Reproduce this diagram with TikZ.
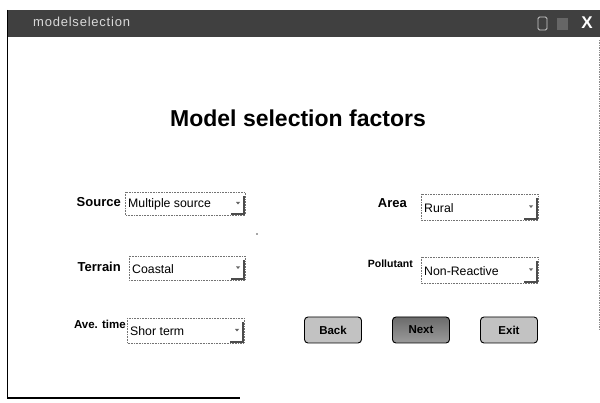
\documentclass[tikz,border=0pt]{standalone}
\usepackage{fontspec}
\setmainfont{Liberation Sans}
\usetikzlibrary{calc}
\definecolor{barbg}{gray}{0.25}
\definecolor{btnfill}{gray}{0.76}
\definecolor{btndark}{gray}{0.42}
\tikzset{
  x=1pt, y=-1pt,
  lbl/.style={font=\bfseries\fontsize{13}{15}\selectfont, inner sep=0pt},
  combo/.style={draw=black!55, densely dotted, line width=0.6pt, fill=white},
  ctext/.style={font=\fontsize{12.3}{14}\selectfont, inner sep=0pt, anchor=west},
  btn/.style={draw=black, line width=0.9pt, rounded corners=3.5pt, fill=btnfill,
    minimum width=57pt, minimum height=26pt, font=\bfseries\fontsize{11.5}{13}\selectfont, inner sep=0pt},
}
% drop-down list: name, left, top, right, bottom, text
\newcommand{\combobox}[6]{%
  \draw[combo] (#2,#3) rectangle (#4,#5);
  \node[ctext] (#1) at ({#2+3},{(#3+#5)/2+1}) {#6};
  \draw[black!70, line width=1.6pt] ({#4-1},{#3+4}) -- ({#4-1},{#5-1}) -- ({#4-14},{#5-1});
  \fill[black!60] ({#4-9},{(#3+#5)/2-1.5}) -- ({#4-5},{(#3+#5)/2-1.5}) -- ({#4-7},{(#3+#5)/2+1}) -- cycle;
}
\begin{document}
\begin{tikzpicture}
\useasboundingbox (0,0) rectangle (600,403);
\fill[white] (0,0) rectangle (600,403);

% window frame
\fill[barbg] (7,10) rectangle (600,37);
\draw[black, line width=1.6pt] (7.5,10) -- (7.5,398) -- (240,398);
\draw[black!45, densely dotted, line width=0.7pt] (599,40) -- (599,330);
\node[font=\fontsize{13}{15}\selectfont, text=white!85!black, anchor=west, inner sep=0pt] (wtitle) at (33,22) {\addfontfeature{LetterSpace=6}modelselection};

% title bar buttons
\draw[white!80!black, line width=0.8pt, rounded corners=1.5pt] (538,17) rectangle (547,30);
\fill[black!60] (557,18) rectangle (568,30);
\node[font=\bfseries\fontsize{17}{17}\selectfont, text=white, inner sep=0pt] (wclose) at (587,23) {X};

% heading
\node[font=\bfseries\fontsize{23}{26}\selectfont, inner sep=0pt] (heading) at (298,118) {Model selection factors};

% left column
\node[lbl, anchor=east] (lsource) at (121,202) {Source};
\combobox{source}{125}{192}{245}{215}{Multiple source}
\node[lbl, anchor=east] (lterrain) at (121,267) {Terrain};
\combobox{terrain}{129}{256}{245}{280}{Coastal}
\node[lbl, anchor=east, font=\bfseries\fontsize{11.5}{13}\selectfont] (lavetime) at (126,324) {Ave. time};
\combobox{avetime}{127}{318}{244}{343}{Shor term}

% right column
\node[lbl, anchor=east] (larea) at (407,203) {Area};
\combobox{area}{421}{194}{538}{220}{Rural}
\node[lbl, anchor=east, font=\bfseries\fontsize{10.5}{12}\selectfont] (lpollutant) at (413,264) {Pollutant};
\combobox{pollutant}{421}{257}{538}{283}{Non-Reactive}

% push buttons
\node[btn] (back) at (333,330) {Back};
\node[btn, top color=btndark, bottom color=btnfill!80!black] (next) at (421,330) {Next};
\node[btn] (exit) at (509,330) {Exit};

% stray mark
\fill[black!70] (257,234) circle (0.8);
\end{tikzpicture}
\end{document}
